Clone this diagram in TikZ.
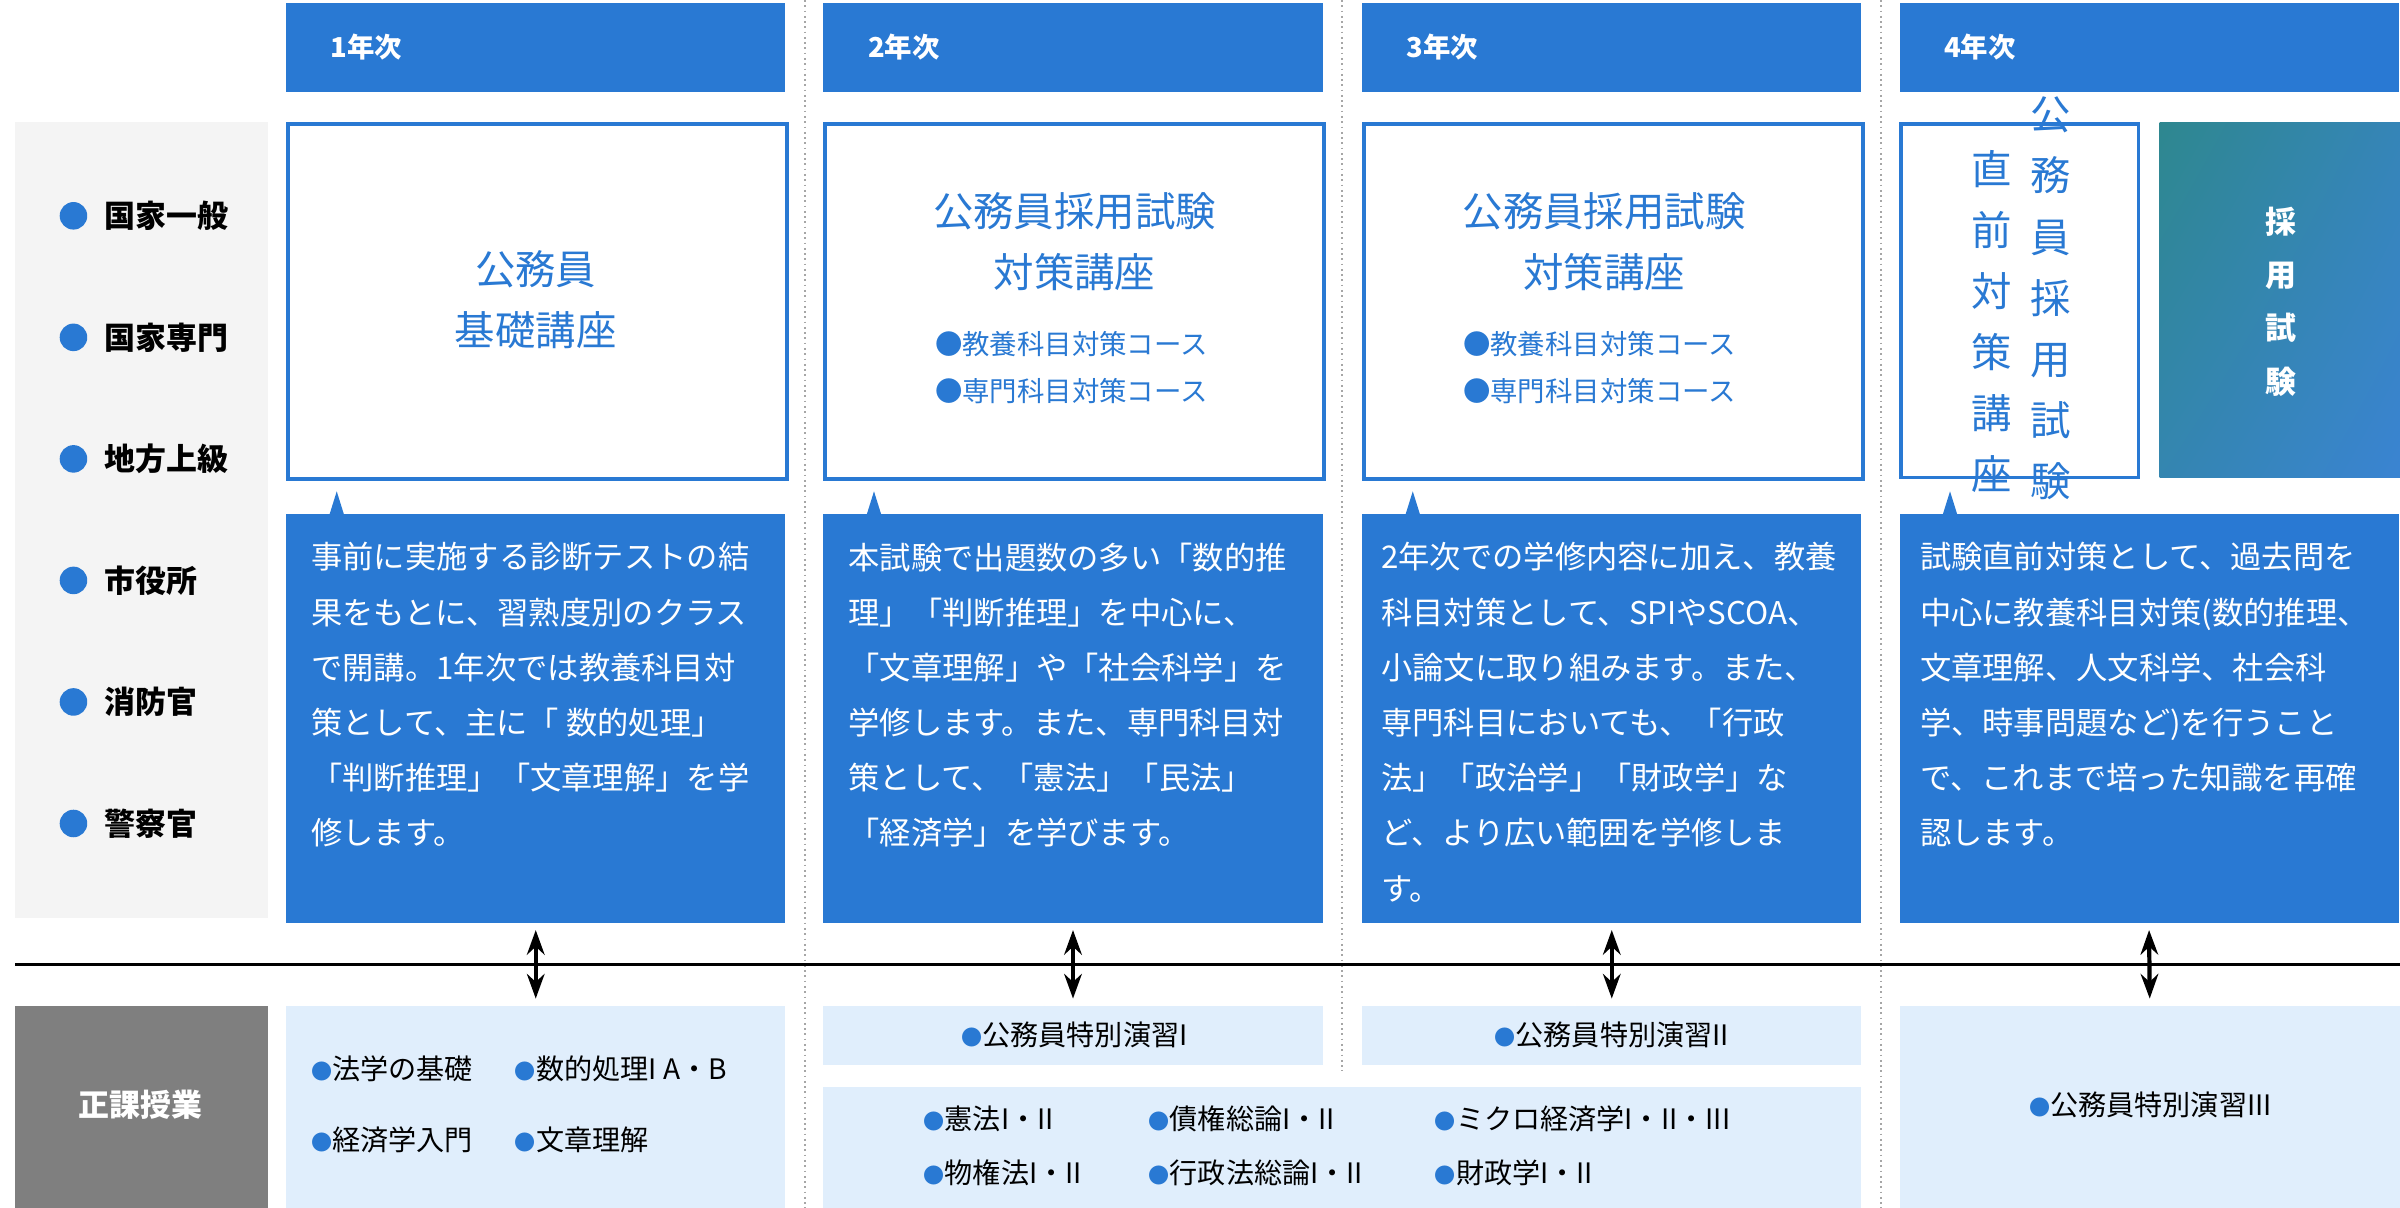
\documentclass[tikz,border=0pt]{standalone}
\usepackage{fontspec}
\setmainfont{Noto Sans CJK JP}
\usetikzlibrary{arrows.meta,shadings}
\definecolor{mainblue}{HTML}{2979D3}
\definecolor{paleblue}{HTML}{E0EEFC}
\definecolor{sidegray}{HTML}{F4F4F4}
\definecolor{darkgray}{HTML}{7F7F7F}
\definecolor{tealtop}{HTML}{2E878F}
\definecolor{bluebot}{HTML}{3A84D2}
\def\pxu{0.4355pt}
\newcommand\bdot{{\color{mainblue}\fontsize{6pt}{6pt}\selectfont ●}}
\tikzset{
  box/.style 2 args={rectangle,anchor=north west,inner sep=0pt,outer sep=0pt,
    minimum width=#1*\pxu,minimum height=#2*\pxu},
  hbar/.style={fill=mainblue},
  titlebox/.style={fill=white,draw=mainblue,line width=1pt},
  bodybox/.style={fill=mainblue},
  coursebox/.style={fill=paleblue},
}
\begin{document}
\begin{tikzpicture}[x=0.015306cm,y=-0.015306cm]
\useasboundingbox (0,0) rectangle (1568,789);
% year separators
\begin{scope}[gray!70,densely dotted,line width=0.5pt]
    \coordinate (s1a) at (526,0); \coordinate (s1b) at (526,789);
    \coordinate (s2a) at (877,0); \coordinate (s2b) at (877,700);
    \coordinate (s3a) at (1229,0); \coordinate (s3b) at (1229,789);
    \draw (s1a) -- (s1b);
    \draw (s2a) -- (s2b);
    \draw (s3a) -- (s3b);
\end{scope}
% header bars
\begin{scope}[every node/.style={box={326}{58},hbar}]
    \node (H1) at (187,2) {};
    \node (H2) at (538,2) {};
    \node (H3) at (890,2) {};
    \node (H4) at (1241,2) {};
\end{scope}
\begin{scope}[every node/.style={anchor=west,text=white,font=\fontsize{7.8pt}{9pt}\selectfont\bfseries}]
    \node (h1) at (208,31) {1年次};
    \node (h2) at (559,31) {2年次};
    \node (h3) at (911,31) {3年次};
    \node (h4) at (1262,31) {4年次};
\end{scope}
% left panel
\node[box={165}{520},fill=sidegray] (side) at (10,80) {};
\foreach \t [count=\i] in {国家一般,国家専門,地方上級,市役所,消防官,警察官} {
    \node[circle,fill=mainblue,inner sep=0pt,minimum size=18*\pxu] (d\i) at (48,{141+79.4*(\i-1)}) {};
    \node[anchor=west,font=\fontsize{8.8pt}{10pt}\selectfont\bfseries] (l\i) at (60,{141+79.4*(\i-1)}) {\t};
}
% course boxes
\begin{scope}[every node/.style={box={326}{232},titlebox}]
    \node (T1) at (188,81) {};
    \node (T2) at (539,81) {};
    \node (T3) at (891,81) {};
\end{scope}
\node[box={155}{231},titlebox] (T4) at (1242,81) {};
\node[box={157}{232},upper left=tealtop,lower left=tealtop!50!bluebot,upper right=tealtop!40!bluebot,lower right=bluebot] (exam) at (1411,80) {};
\begin{scope}[every node/.style={text=mainblue,align=center,font=\fontsize{11.5pt}{17.4pt}\selectfont}]
    \node (t1) at (350,196) {公務員\\基礎講座};
    \node (t2) at (702,158) {公務員採用試験\\対策講座};
    \node (t3) at (1048,158) {公務員採用試験\\対策講座};
    \node (t4a) at (1340,195) {公\\務\\員\\採\\用\\試\\験};
    \node (t4b) at (1301,210) {直\\前\\対\\策\\講\\座};
\end{scope}
\begin{scope}[every node/.style={text=mainblue,align=left,font=\fontsize{7.8pt}{13.5pt}\selectfont}]
    \node (k2) at (700,240) {●教養科目対策コース\\●専門科目対策コース};
    \node (k3) at (1045,240) {●教養科目対策コース\\●専門科目対策コース};
\end{scope}
\node[text=white,align=center,font=\fontsize{8.8pt}{15.2pt}\selectfont\bfseries] (e1) at (1490,197) {採\\用\\試\\験};
% descriptions
\begin{scope}[every node/.style={box={326}{267},bodybox}]
    \node (B1) at (187,336) {};
    \node (B2) at (538,336) {};
    \node (B3) at (890,336) {};
    \node (B4) at (1241,336) {};
\end{scope}
\foreach \x in {220,571,923,1274}
    \fill[mainblue] (\x-5,337) -- (\x,321) -- (\x+5,337) -- cycle;
\begin{scope}[every node/.style={anchor=north west,text=white,align=left,inner sep=0pt,font=\fontsize{8.9pt}{15.7pt}\selectfont}]
    \node (b1) at (203,354) {事前に実施する診断テストの結\\果をもとに、習熟度別のクラス\\で開講。1年次では教養科目対\\策として、主に「 数的処理」\\「判断推理」「文章理解」を学\\修します。};
    \node (b2) at (554,354) {本試験で出題数の多い「数的推\\理」「判断推理」を中心に、\\「文章理解」や「社会科学」を\\学修します。また、専門科目対\\策として、「憲法」「民法」\\「経済学」を学びます。};
    \node (b3) at (902,354) {2年次での学修内容に加え、教養\\科目対策として、SPIやSCOA、\\小論文に取り組みます。また、\\専門科目においても、「行政\\法」「政治学」「財政学」な\\ど、より広い範囲を学修しま\\す。};
    \node (b4) at (1254,354) {試験直前対策として、過去問を\\中心に教養科目対策(数的推理、\\文章理解、人文科学、社会科\\学、時事問題など)を行うこと\\で、これまで培った知識を再確\\認します。};
\end{scope}
% divider
\coordinate (lineL) at (10,630);
\coordinate (lineR) at (1568,630);
\draw[line width=0.8pt] (lineL) -- (lineR);
% regular classes
\node[box={165}{132},fill=darkgray] (G) at (10,657) {};
\node[text=white,font=\fontsize{8.8pt}{10pt}\selectfont\bfseries] (g) at (92,722) {正課授業};
\begin{scope}[every node/.style={coursebox}]
    \node[box={326}{132}] (C1) at (187,657) {};
    \node[box={326}{39}] (C2) at (538,657) {};
    \node[box={326}{39}] (C3) at (890,657) {};
    \node[box={678}{79}] (C23) at (538,710) {};
    \node[box={327}{132}] (C4) at (1241,657) {};
\end{scope}
\begin{scope}[every node/.style={anchor=west,inner sep=0pt,font=\fontsize{8pt}{10pt}\selectfont}]
    \node (c11) at (203,698) {\bdot 法学の基礎};
    \node (c12) at (336,698) {\bdot 数的処理I A・B};
    \node (c13) at (203,745) {\bdot 経済学入門};
    \node (c14) at (336,745) {\bdot 文章理解};
    \node (c21) at (603,731) {\bdot 憲法I・II};
    \node (c22) at (750,731) {\bdot 債権総論I・II};
    \node (c23) at (937,731) {\bdot ミクロ経済学I・II・III};
    \node (c24) at (603,766) {\bdot 物権法I・II};
    \node (c25) at (750,766) {\bdot 行政法総論I・II};
    \node (c26) at (937,766) {\bdot 財政学I・II};
\end{scope}
\begin{scope}[every node/.style={inner sep=0pt,font=\fontsize{8pt}{10pt}\selectfont}]
    \node (p2) at (702,676) {\bdot 公務員特別演習I};
    \node (p3) at (1053,676) {\bdot 公務員特別演習II};
    \node (p4) at (1405,722) {\bdot 公務員特別演習III};
\end{scope}
% links
\begin{scope}[line width=1.2pt,{Stealth[length=7pt,width=5pt]}-{Stealth[length=7pt,width=5pt]},shorten <=2pt,shorten >=2pt]
    \draw (B1.south) -- (C1.north);
    \draw (B2.south) -- (C2.north);
    \draw (B3.south) -- (C3.north);
    \draw (B4.south) -- (C4.north);
\end{scope}
\end{tikzpicture}
\end{document}
